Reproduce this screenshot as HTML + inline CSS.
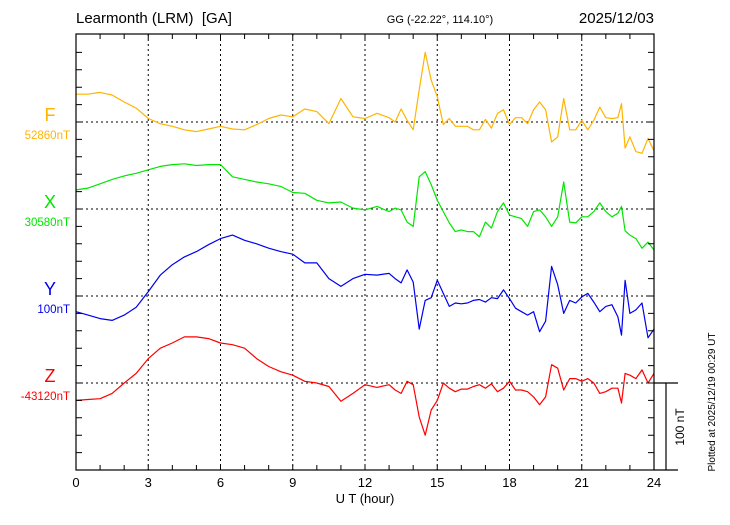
<!DOCTYPE html>
<html><head><meta charset="utf-8"><style>
body{margin:0;background:#fff;}
svg text{font-family:"Liberation Sans",sans-serif;}
</style></head><body>
<svg id="chart" width="730" height="520" viewBox="0 0 730 520" xmlns="http://www.w3.org/2000/svg">
<g id="grid"></g>
<g id="series"></g>
<g id="axes"></g>
<text x="76" y="23" font-size="15">Learmonth (LRM)&#160; [GA]</text>
<text x="440" y="23" font-size="11" text-anchor="middle">GG (-22.22°, 114.10°)</text>
<text x="654" y="23" font-size="15" text-anchor="end">2025/12/03</text>
<text x="365" y="503" font-size="13" text-anchor="middle">U T (hour)</text>
<text transform="translate(684,427) rotate(-90)" font-size="12" text-anchor="middle">100 nT</text>
<text transform="translate(715,402) rotate(-90)" font-size="10" text-anchor="middle">Plotted at 2025/12/19 00:29 UT</text>
</svg>
<script>
const hours=[0,0.5,1,1.5,2,2.5,3,3.5,4,4.5,5,5.5,6,6.5,7,7.5,8,8.5,9,9.5,10,10.5,11,11.5,12,12.5,13,13.25,13.5,13.75,14,14.25,14.5,14.75,15,15.25,15.5,15.75,16,16.25,16.5,16.75,17,17.25,17.5,17.75,18,18.25,18.5,18.75,19,19.25,19.5,19.75,20,20.25,20.5,20.75,21,21.25,21.5,21.75,22,22.25,22.5,22.65,22.8,23,23.25,23.5,23.75,24];
const fVals=[32,32,34,31,23,16,4,-2,-5,-9,-11,-8,-5,-8,-9,-3,4,8,6,15,12,-2,27,6,4,10,5,0,15,2,-9,37,80,48,29,-3,4,-5,-5,-5,-9,-9,3,-7,10,14,-3,5,5,-2,14,23,14,-23,-17,27,-9,-9,2,-9,2,17,5,4,5,21,-30,-17,-34,-36,-19,-33];
const xVals=[22,24,29,34,38,41,45,49,51,52,50,51,51,37,34,31,29,26,19,18,10,7,8,1,-1,3,-3,1,-1,-15,-20,37,43,28,10,-3,-16,-26,-24,-26,-26,-32,-15,-22,-3,7,-7,-9,-11,-20,-3,-1,-9,-20,-9,31,-15,-16,-9,-9,-3,7,-3,-9,-5,3,-25,-30,-34,-45,-38,-47];
const yVals=[-18,-22,-26,-28,-22,-13,5,24,36,45,51,59,66,70,64,60,55,51,48,38,38,20,11,20,25,24,26,20,15,30,16,-38,-5,-2,18,3,-12,-8,-9,-8,-5,-4,-7,-2,-3,7,-3,-14,-18,-22,-18,-41,-29,34,13,-20,-5,-8,-1,3,-7,-18,-12,-10,-24,-45,18,-20,-16,-8,-48,-38];
const zVals=[-20,-19,-18,-12,0,11,28,40,46,53,53,51,46,44,40,28,19,13,9,2,0,-4,-21,-12,-2,-5,-2,-8,-12,2,-2,-39,-60,-31,-20,0,-6,-10,-7,-7,-4,-2,-6,-1,-10,-6,2,-8,-8,-10,-16,-25,-16,21,17,-8,5,5,2,5,0,-12,-10,-6,-6,-23,11,9,5,15,0,11];
const names=["F","X","Y","Z"];
const baseLabels=["52860nT","30580nT","100nT","-43120nT"];
const xTickLabels=["0","3","6","9","12","15","18","21","24"];

const L=76,R=654,T=34,B=470;
const colors=["#ffb400","#00e600","#0000f0","#ff0000"];
const bases=[122,209,296,383];
const pxPerNT=87/100;
const xs=h=>L+(R-L)*h/24;
const ys=(v,i)=>bases[i]-v*pxPerNT;
const NS="http://www.w3.org/2000/svg";
function mk(tag,attrs,parent){const e=document.createElementNS(NS,tag);for(const k in attrs)e.setAttribute(k,attrs[k]);parent.appendChild(e);return e;}
const grid=document.getElementById('grid'),axes=document.getElementById('axes'),ser=document.getElementById('series');

xTickLabels.forEach((t,i)=>{const h=+t;const x=xs(h);
 if(h>0&&h<24){const g=mk('line',{x1:x,x2:x,y1:T,y2:B,stroke:'#000','stroke-width':1,'stroke-dasharray':'2,3'},grid);
 
 }
 const tx=mk('text',{x:x,y:487,'font-size':13,'text-anchor':'middle'},axes);tx.textContent=t;
 
 
});
bases.forEach((b,i)=>{const g=mk('line',{x1:L,x2:R,y1:b,y2:b,stroke:'#000','stroke-width':1,'stroke-dasharray':'2,3'},grid);
 
 
 const n=mk('text',{x:50,y:b-1,'font-size':18,'text-anchor':'middle',fill:colors[i]},axes);n.textContent=names[i];
 
 
 const v=mk('text',{x:70,y:b+17,'font-size':11.5,'text-anchor':'end',fill:colors[i]},axes);v.textContent=baseLabels[i];
 
 
});
let fr=mk('rect',{x:L,y:T,width:R-L,height:B-T,fill:'none',stroke:'#000','stroke-width':1.2},axes);


let ext=mk('path',{d:`M${R} ${B}H678M${R} 383H678M666 383V${B}`,stroke:'#000','stroke-width':1.2,fill:'none'},axes);


let d='';
for(let h=1;h<24;h++){const x=xs(h);d+=`M${x} ${B}v-5M${x} ${T}v5`;}
for(let y=B;y>T+2;y-=17.4){d+=`M${L} ${y}h6M${R} ${y}h-6`;}
let tk=mk('path',{d:d,stroke:'#000','stroke-width':1,fill:'none'},axes);


[fVals,xVals,yVals,zVals].forEach((vals,i)=>{
 const pts=vals.map((v,j)=>xs(hours[j]).toFixed(1)+','+ys(v,i).toFixed(1)).join(' ');
 const p=mk('polyline',{points:pts,fill:'none',stroke:colors[i],'stroke-width':1.2,'stroke-linejoin':'round'},ser);
 
 
});
</script>
</body></html>
